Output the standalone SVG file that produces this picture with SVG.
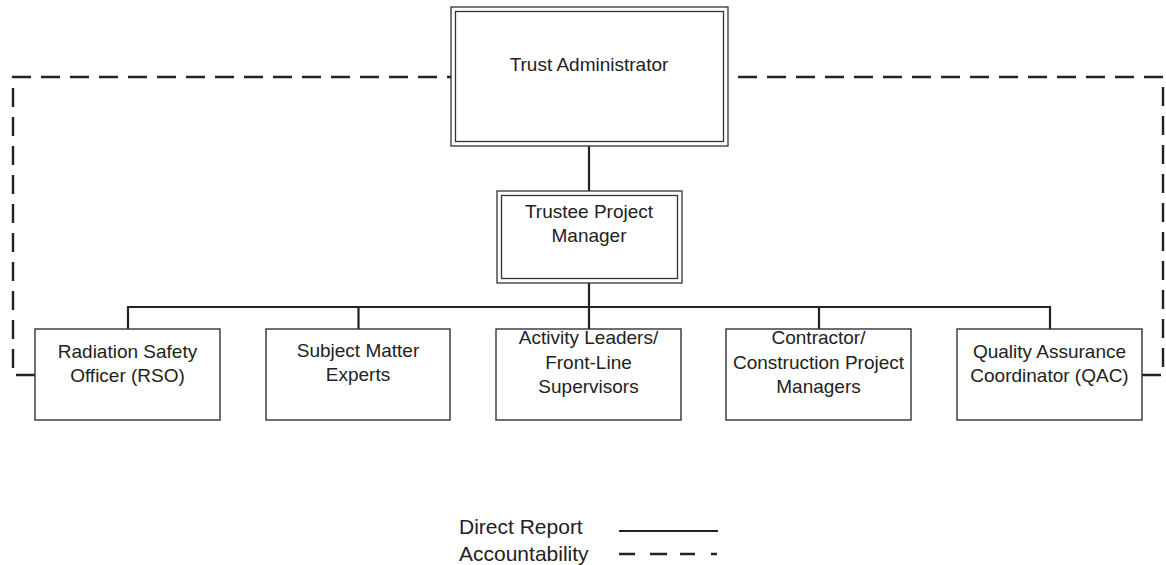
<svg xmlns="http://www.w3.org/2000/svg" width="1166" height="565" viewBox="0 0 1166 565">
<style>
.box{fill:#fff;stroke:#333;stroke-width:1.4}
.dbl{fill:none;stroke:#333;stroke-width:1.3}
.solid{fill:none;stroke:#222;stroke-width:2.2}
.dash{fill:none;stroke:#222;stroke-width:2.4;stroke-dasharray:19 10}
text{font-family:"Liberation Sans",Arial,sans-serif;font-size:19px;fill:#222;text-anchor:middle}
.leg{font-size:21px;text-anchor:start}
</style>
<rect width="1166" height="565" fill="#fff"/>
<g id="connectors">
<path class="dash" d="M35,375 H13 V77 H451"/>
<path class="dash" d="M1142,375 H1163 V77 H728"/>
<path class="solid" d="M589,146 V191"/>
<path class="solid" d="M589,283 V307"/>
<path class="solid" d="M128,329 V307 H1050 V329"/>
<path class="solid" d="M358.5,307 V329 M589,307 V329 M819,307 V329"/>
</g>
<g id="trust-administrator">
<rect class="dbl" x="451" y="7" width="277" height="139"/>
<rect class="dbl" x="455.5" y="11.5" width="268" height="130"/>
<text x="589" y="71">Trust Administrator</text>
</g>
<g id="trustee-project-manager">
<rect class="dbl" x="497" y="191" width="185" height="92"/>
<rect class="dbl" x="501.5" y="195.5" width="176" height="83"/>
<text x="589" y="218">Trustee Project</text>
<text x="589" y="242">Manager</text>
</g>
<g id="rso">
<rect class="box" x="35" y="329" width="185" height="91"/>
<text x="127.5" y="358">Radiation Safety</text>
<text x="127.5" y="382">Officer (RSO)</text>
</g>
<g id="sme">
<rect class="box" x="266" y="329" width="184" height="91"/>
<text x="358" y="357">Subject Matter</text>
<text x="358" y="381">Experts</text>
</g>
<g id="activity-leaders">
<rect class="box" x="496" y="329" width="185" height="91"/>
<text x="588.5" y="344">Activity Leaders/</text>
<text x="588.5" y="369">Front-Line</text>
<text x="588.5" y="393">Supervisors</text>
</g>
<g id="contractor">
<rect class="box" x="726" y="329" width="185" height="91"/>
<text x="818.5" y="344">Contractor/</text>
<text x="818.5" y="369">Construction Project</text>
<text x="818.5" y="393">Managers</text>
</g>
<g id="qac">
<rect class="box" x="957" y="329" width="185" height="91"/>
<text x="1049.5" y="358">Quality Assurance</text>
<text x="1049.5" y="382">Coordinator (QAC)</text>
</g>
<g id="legend">
<text class="leg" x="459" y="534">Direct Report</text>
<text class="leg" x="459" y="561">Accountability</text>
<path class="solid" d="M619,531 H718"/>
<path fill="none" stroke="#222" stroke-width="2.4" d="M619,554 H635 M650,554 H667 M680,554 H695 M711,554 H717"/>
</g>
</svg>
